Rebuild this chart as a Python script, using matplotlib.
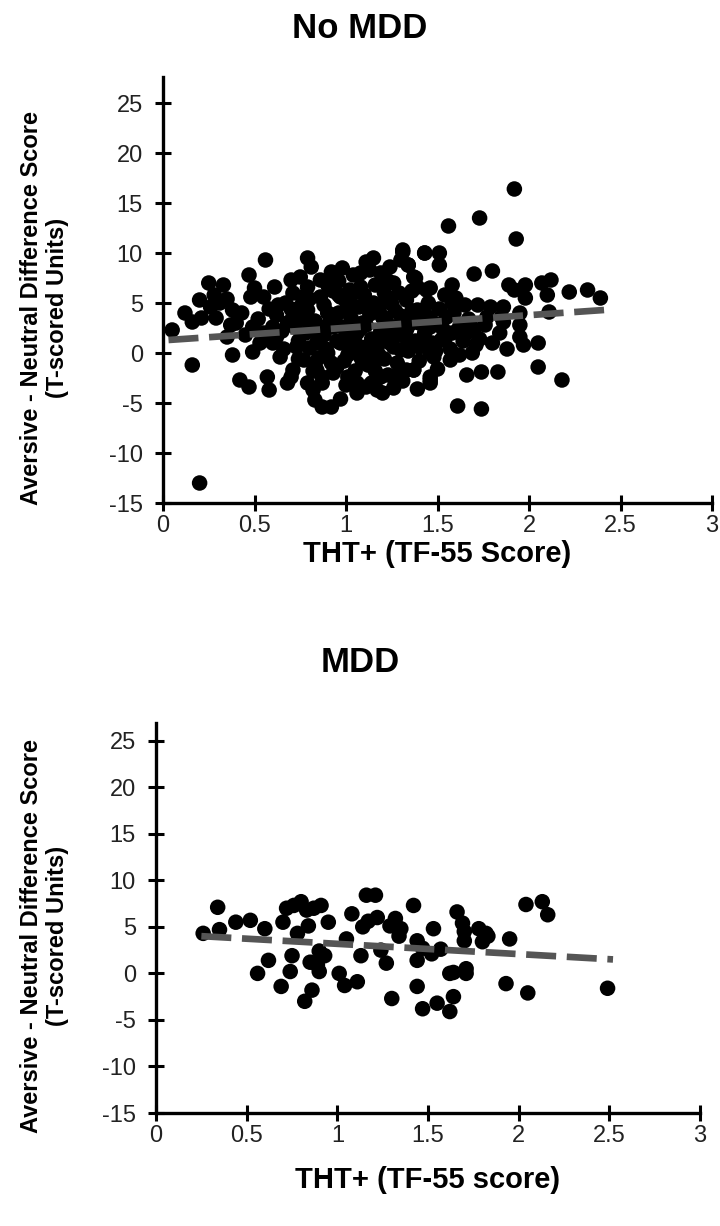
import numpy as np
import matplotlib.pyplot as plt
from matplotlib import font_manager

# ── Data ────────────────────────────────────────────────────────────────────
# No MDD panel: THT+ (x) vs aversive - neutral difference score (y)
nomdd_x = [
    0.05, 0.16, 0.16, 0.20, 0.25, 0.33, 0.21, 0.29, 0.31, 0.26, 0.38, 0.37, 0.38, 0.42,
    0.47, 0.43, 0.47, 0.50, 0.48, 0.55, 0.56, 0.49, 0.53, 0.49, 0.57, 0.58, 0.61, 0.60,
    0.62, 0.64, 0.68, 0.67, 0.70, 0.75, 0.79, 0.81, 0.79, 0.75, 0.71, 0.79, 0.73, 0.71,
    0.77, 0.79, 0.83, 0.87, 0.92, 0.84, 0.82, 0.87, 0.84, 0.82, 0.86, 0.86, 0.92, 0.98,
    0.90, 0.93, 0.90, 0.95, 0.97, 1.01, 1.02, 1.08, 1.01, 1.06, 1.11, 1.17, 1.19, 1.04,
    1.11, 1.08, 1.15, 1.11, 1.15, 1.13, 1.19, 1.24, 1.15, 1.20, 1.22, 1.26, 1.31, 1.30,
    1.34, 1.37, 1.43, 1.26, 1.30, 1.33, 1.37, 1.26, 1.40, 1.44, 1.42, 1.46, 1.46, 1.46,
    1.92, 1.73, 1.56, 1.93, 1.31, 1.43, 1.51, 1.51, 1.34, 1.38, 1.70, 1.80, 1.58, 1.46,
    1.89, 1.98, 2.07, 2.12, 2.10, 2.22, 2.32, 2.39, 1.98, 1.92, 1.54, 1.60, 1.65, 1.72,
    1.79, 1.86, 1.95, 2.11, 1.95, 1.86, 1.95, 1.97, 2.05, 2.05, 2.18, 1.83, 1.74, 1.66,
    1.46, 1.37, 1.61, 1.74, 1.71, 1.69, 1.62, 1.57, 1.52, 1.58, 1.66, 1.48, 1.40, 1.46,
    1.39, 1.33, 1.77, 1.85, 0.20,
    0.78, 0.80, 0.83, 0.85, 0.88, 0.88, 0.91, 0.93, 0.95, 0.96, 0.98, 0.99, 1.00, 1.02,
    1.03, 1.05, 1.06, 1.07, 1.09, 1.10, 1.11, 1.12, 1.13, 1.14, 1.16, 1.17, 1.18, 1.19,
    1.21, 1.22, 1.23, 1.24, 1.25, 1.27, 1.28, 1.29, 1.30, 1.31, 1.33, 1.34, 1.35, 1.36,
    1.38, 1.39, 1.40, 1.41, 1.43, 1.45, 1.47, 1.48, 1.50, 1.51, 1.53, 1.55, 1.57, 1.59,
    1.62, 1.64, 1.67, 1.70, 1.73, 1.76, 1.80, 1.84, 1.88, 0.62, 0.65, 0.66, 0.70, 0.72,
    0.74, 0.76, 0.58, 0.55, 0.52, 0.45, 0.40, 0.35, 0.93, 0.96, 1.04, 1.08, 1.00, 1.06,
    0.97, 1.14, 1.20, 1.26, 1.31, 1.39, 1.16, 1.23, 0.87, 0.92, 1.01, 1.09, 1.18,
    0.60, 0.63, 0.68, 0.71, 0.74, 0.77, 0.80, 0.83, 0.86, 0.89, 0.94, 0.97, 1.00, 1.03,
    1.06, 1.09, 1.12, 1.15, 1.18, 1.21, 1.24, 1.27, 1.30, 1.33, 1.36, 1.42, 1.45, 1.49,
    1.54, 1.58, 0.90, 0.96, 1.02, 1.08, 1.14, 1.20, 1.26, 1.32, 0.82, 0.70, 0.12, 0.28,
    0.35,
]
nomdd_y = [
    2.3, -1.2, 3.1, 5.3, 7.0, 6.8, 3.5, 3.5, 5.0, 4.6, 4.3, 2.8, -0.2, -2.7,
    -3.4, 4.0, 7.8, 6.5, 5.6, 5.6, 9.3, 2.6, 1.0, 0.1, -2.4, -3.7, 6.6, 2.6,
    1.6, -0.4, -3.0, 5.0, 7.3, 7.6, 9.5, 8.6, 6.6, 4.6, 3.6, 4.3, 0.6, -1.7,
    -0.7, -3.0, -4.7, -5.4, -5.4, -1.7, -3.7, -3.0, 1.0, 2.3, 5.6, 7.3, 8.1, 8.5,
    4.0, 2.6, 0.0, -1.4, 5.6, 4.6, 6.3, 6.6, -2.4, -3.0, -3.4, -3.7, -2.4, 1.6,
    0.6, -0.4, -1.0, 9.1, 9.5, 8.3, 8.0, 8.6, 5.0, 3.6, 5.6, 7.0, 10.3, 9.3,
    8.8, 7.6, 10.0, 1.6, 0.3, -1.7, -1.7, -2.4, 3.0, 6.3, 4.3, -2.4, -3.0, 0.0,
    16.4, 13.5, 12.7, 11.4, 10.1, 10.0, 10.0, 8.8, 8.8, 7.5, 7.9, 8.2, 6.8, 6.5,
    6.8, 6.8, 7.0, 7.3, 5.8, 6.1, 6.3, 5.5, 5.5, 6.3, 5.8, 5.5, 4.8, 4.8,
    4.6, 4.6, 4.0, 4.1, 2.8, 3.1, 1.6, 0.8, 1.0, -1.4, -2.7, -1.9, -1.9, -2.2,
    -2.7, -1.7, -5.3, -5.6, 0.8, 0.0, -0.2, -0.7, 1.3, 2.0, 2.0, -0.4, 0.6, 2.6,
    4.3, 2.3, 3.6, 3.6, -13.0,
    2.0, 0.5, 3.2, -0.5, 1.8, 4.8, 3.0, -2.0, 1.2, 4.0, 2.6, -0.8, 5.2, 0.8,
    3.4, -1.8, 2.0, 4.6, 0.2, 5.8, 2.8, -1.2, 3.9, 1.4, 6.8, 0.6, 4.4, 2.2,
    -0.6, 3.2, 7.2, 1.0, 4.9, 2.6, -1.0, 6.0, 3.7, 1.8, 5.3, 0.2, 2.9, 4.2,
    1.2, 6.6, -0.8, 3.6, 2.0, 5.0, 1.0, 3.0, -1.6, 4.4, 2.4, 3.6, 0.4, 4.0,
    2.6, 1.2, 3.4, 2.4, 1.4, 2.8, 1.0, 2.0, 0.4, 3.8, 2.2, 0.4, 4.4, 2.6,
    -0.6, 5.6, 4.4, 2.0, 3.4, 1.8, 3.0, 1.6, 6.2, 7.2, 7.8, 8.0, -3.2, -4.0,
    -4.6, -3.0, -4.0, -3.5, -2.8, -3.6, -1.8, -2.2, -2.4, -1.0, -0.2, -0.9, -0.2,
    1.0, 4.8, 3.0, 6.0, 1.2, 3.4, 5.4, -1.2, 2.6, 0.4, 3.8, 1.0, 2.2, 5.8,
    0.8, 3.0, 4.8, -0.4, 1.6, 6.0, 2.4, 4.2, -1.8, 0.6, 6.2, 1.4, 3.6, 0.2,
    1.4, 5.0, 6.8, 5.8, 4.2, 2.4, 0.0, 3.6, 0.6, 3.0, -1.8, -2.4, 4.0, 5.8,
    5.4,
]
# dashed trend line (end points)
nomdd_trend_x = [0.03, 2.41]
nomdd_trend_y = [1.3, 4.3]

# MDD panel
mdd_x = [
    0.26, 0.34, 0.35, 0.44, 0.52, 0.60, 0.62, 0.56, 0.69, 0.70, 0.72, 0.76, 0.80, 0.83,
    0.87, 0.91, 0.78, 0.84, 0.75, 0.74, 0.82, 0.86, 0.95, 0.85, 0.90, 0.93, 0.89, 0.90,
    1.01, 1.04, 1.11, 1.05, 1.08, 1.13, 1.14, 1.17, 1.16, 1.21, 1.22, 1.24, 1.27, 1.30,
    1.29, 1.32, 1.35, 1.34, 1.42, 1.44, 1.44, 1.44, 1.47, 1.53, 1.52, 1.47, 1.55, 1.57,
    1.62, 1.62, 1.64, 1.64, 1.71, 1.71, 1.66, 1.69, 1.70, 1.70, 1.78, 1.82, 1.83, 1.80,
    1.95, 1.93, 2.05, 2.04, 2.13, 2.16, 2.49,
]
mdd_y = [
    4.3, 7.1, 4.7, 5.5, 5.7, 4.8, 1.4, 0.0, -1.4, 5.5, 7.0, 7.3, 7.7, 6.8,
    7.0, 7.3, 4.3, 5.1, 1.9, 0.2, -3.0, -1.8, 5.5, 1.2, 2.4, 1.9, 0.9, 0.2,
    0.0, -1.3, -0.9, 3.7, 6.4, 1.9, 5.0, 5.6, 8.4, 8.4, 6.0, 2.5, 1.1, -2.7,
    5.1, 5.9, 4.8, 4.0, 7.3, 3.5, 1.4, -1.4, 2.7, 4.8, 2.1, -3.8, -3.2, 2.6,
    0.0, -4.1, -2.5, 0.1, 0.5, 0.0, 6.6, 5.4, 4.5, 3.5, 4.8, 4.3, 4.0, 3.4,
    3.7, -1.1, -2.1, 7.4, 7.7, 6.3, -1.6,
]
mdd_trend_x = [0.25, 2.52]
mdd_trend_y = [4.0, 1.5]

X_TICKS = [0, 0.5, 1, 1.5, 2, 2.5, 3]
X_LABELS = ["0", "0.5", "1", "1.5", "2", "2.5", "3"]
Y_TICKS = [-15, -10, -5, 0, 5, 10, 15, 20, 25]
YLABEL = "Aversive - Neutral Difference Score\n(T-scored Units)"


def pick_font(*names):
    for name in names:
        try:
            font_manager.findfont(font_manager.FontProperties(family=name),
                                  fallback_to_default=False)
            return name
        except ValueError:
            pass
    return "DejaVu Sans"


BOLD = [pick_font("Liberation Sans", "Arial"), "DejaVu Sans"]
NARROW = [pick_font("Liberation Sans Narrow", "Arial Narrow", "Liberation Sans"),
          "DejaVu Sans"]


def style_axes(ax, ytop):
    ax.set_xlim(0, 3)
    ax.set_ylim(-15, ytop)
    ax.spines["top"].set_visible(False)
    ax.spines["right"].set_visible(False)
    for side in ("left", "bottom"):
        ax.spines[side].set_linewidth(2.4)
    ax.set_xticks(X_TICKS)
    ax.set_xticklabels(X_LABELS, family=NARROW, fontsize=17, color="#222222")
    ax.set_yticks(Y_TICKS)
    ax.set_yticklabels([str(v) for v in Y_TICKS], family=NARROW, fontsize=17,
                       color="#222222")
    ax.tick_params(direction="inout", length=11, width=2.2)
    ax.tick_params(axis="x", pad=3)
    ax.tick_params(axis="y", pad=9)


def panel(fig, rect, xs, ys, tx, ty, ytop, title, title_y, xlabel, xlabel_pad):
    ax = fig.add_axes(rect)
    ax.scatter(xs, ys, s=125, color="black", edgecolors="none", zorder=2)
    ax.plot(tx, ty, color="#555555", linewidth=4.8, dashes=(4.5, 1.6),
            solid_capstyle="butt", zorder=3)
    style_axes(ax, ytop)
    ax.set_xlabel(xlabel, family=BOLD, fontweight="bold", fontsize=21,
                  labelpad=xlabel_pad)
    fig.text(0.5, title_y, title, ha="center", va="center", family=BOLD,
             fontweight="bold", fontsize=25)
    fig.text(0.062, rect[1] + rect[3] * 0.5 - 0.015, YLABEL, rotation=90,
             ha="center", va="center", family=BOLD, fontweight="bold",
             fontsize=17, linespacing=1.15, multialignment="center")
    return ax


def main():
    fig = plt.figure(figsize=(7.2, 12.26), dpi=100)

    panel(fig, [0.2264, 1 - 503 / 1226, 0.7625, 426 / 1226],
          nomdd_x, nomdd_y, nomdd_trend_x, nomdd_trend_y, 27.6,
          "No MDD", 1 - 28 / 1226, "THT+ (TF-55 Score)", 2)
    panel(fig, [0.2167, 1 - 1113 / 1226, 0.7556, 390 / 1226],
          mdd_x, mdd_y, mdd_trend_x, mdd_trend_y, 26.9,
          "MDD", 1 - 663 / 1226, "THT+ (TF-55 score)", 14)

    fig.savefig("out.png", dpi=100)
    plt.close(fig)


if __name__ == "__main__":
    main()
